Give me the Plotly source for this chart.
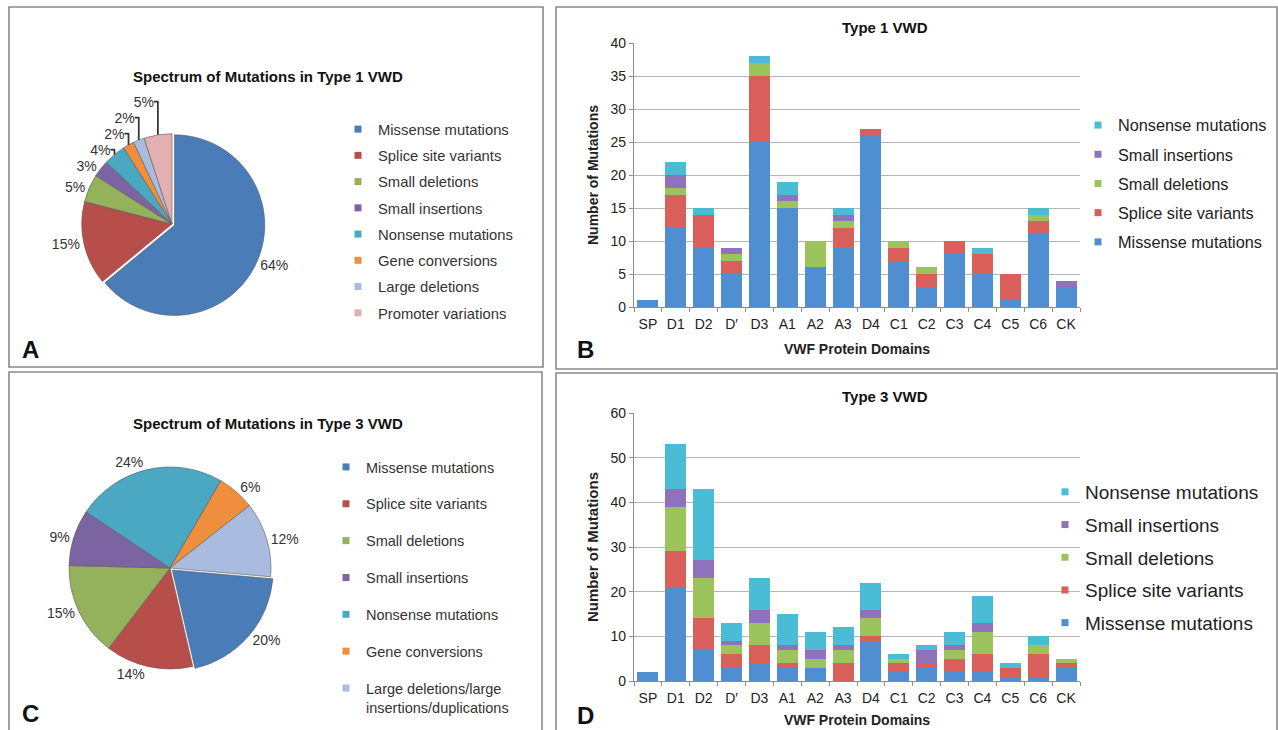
import plotly.graph_objects as go

W, H = 1278, 730

def px(x):
    return x / W

def py(y):
    return 1 - y / H

# ---------------- data ----------------
domains = ["SP", "D1", "D2", "D′", "D3", "A1", "A2", "A3", "D4",
           "C1", "C2", "C3", "C4", "C5", "C6", "CK"]

t1_missense = [1, 12, 9, 5, 25, 15, 6, 9, 26, 7, 3, 8, 5, 1, 11, 3]
t1_splice   = [0, 5, 5, 2, 10, 0, 0, 3, 1, 2, 2, 2, 3, 4, 2, 0]
t1_smalldel = [0, 1, 0, 1, 2, 1, 4, 1, 0, 1, 1, 0, 0, 0, 1, 0]
t1_smallins = [0, 2, 0, 1, 0, 1, 0, 1, 0, 0, 0, 0, 0, 0, 0, 1]
t1_nonsense = [0, 2, 1, 0, 1, 2, 0, 1, 0, 0, 0, 0, 1, 0, 1, 0]

t3_missense = [2, 21, 7, 3, 4, 3, 3, 0, 9, 2, 3, 2, 2, 1, 1, 3]
t3_splice   = [0, 8, 7, 3, 4, 1, 0, 4, 1, 2, 1, 3, 4, 2, 5, 1]
t3_smalldel = [0, 10, 9, 2, 5, 3, 2, 3, 4, 1, 0, 2, 5, 0, 2, 1]
t3_smallins = [0, 4, 4, 1, 3, 1, 2, 1, 2, 0, 3, 1, 2, 0, 0, 0]
t3_nonsense = [0, 10, 16, 4, 7, 7, 4, 4, 6, 1, 1, 3, 6, 1, 2, 0]

bar_series = ["Missense mutations", "Splice site variants", "Small deletions",
              "Small insertions", "Nonsense mutations"]

pie1_labels = ["Missense mutations", "Splice site variants", "Small deletions",
               "Small insertions", "Nonsense mutations", "Gene conversions",
               "Large deletions", "Promoter variations"]
pie1_values = [64, 15, 5, 3, 4, 2, 2, 5]

pie3_labels = ["Missense mutations", "Splice site variants", "Small deletions",
               "Small insertions", "Nonsense mutations", "Gene conversions",
               "Large deletions/large<br>insertions/duplications"]
pie3_values = [20, 14, 15, 9, 24, 6, 12]

# ---------------- styles ----------------
FONT = "Liberation Sans, Arial, sans-serif"
bar_colors = ["#4f8fd1", "#d9605a", "#9cc45c", "#8e72bb", "#4bbcd6"]
pie_colors = ["#4a7db8", "#b84e4a", "#94b25c", "#7c64a2", "#4aa8c2",
              "#ef8f3e", "#a9bce0", "#e2b0b0"]

fig = go.Figure()

t1 = [t1_missense, t1_splice, t1_smalldel, t1_smallins, t1_nonsense]
t3 = [t3_missense, t3_splice, t3_smalldel, t3_smallins, t3_nonsense]

for name, vals, col in zip(bar_series, t1, bar_colors):
    fig.add_trace(go.Bar(x=domains, y=vals, name=name, marker=dict(color=col, line=dict(width=0)),
                         xaxis="x", yaxis="y", showlegend=False))
for name, vals, col in zip(bar_series, t3, bar_colors):
    fig.add_trace(go.Bar(x=domains, y=vals, name=name, marker=dict(color=col, line=dict(width=0)),
                         xaxis="x2", yaxis="y2", showlegend=False))

# pies
fig.add_trace(go.Pie(
    labels=pie1_labels, values=pie1_values, sort=False, direction="clockwise", rotation=0,
    marker=dict(colors=pie_colors, line=dict(color="#5a5a5a", width=0.6)),
    pull=[0.03] + [0] * (len(pie1_values) - 1),
    texttemplate="%{value}%", textposition="outside",
    textfont=dict(size=14, color="#333333", family=FONT),
    domain=dict(x=[px(79), px(265)], y=[py(317), py(131)]),
    showlegend=False, hoverinfo="label+value"))

fig.add_trace(go.Pie(
    labels=pie3_labels, values=pie3_values, sort=False, direction="clockwise", rotation=95,
    marker=dict(colors=pie_colors[:7], line=dict(color="#5a5a5a", width=0.6)),
    pull=[0.03] + [0] * (len(pie3_values) - 1),
    texttemplate="%{value}%", textposition="outside",
    textfont=dict(size=14, color="#333333", family=FONT),
    domain=dict(x=[px(66), px(274)], y=[py(672), py(464)]),
    showlegend=False, hoverinfo="label+value"))

# legend entries (square markers)
def legend_entry(name, color, legend, group):
    return go.Scatter(x=[None], y=[None], mode="markers", name=name,
                      marker=dict(symbol="square", size=7, color=color),
                      legend=legend, legendgroup=group, showlegend=True,
                      hoverinfo="skip", xaxis="x", yaxis="y")

for i in [4, 3, 2, 1, 0]:
    fig.add_trace(legend_entry(bar_series[i], bar_colors[i], "legend", "b%d" % i))
for i in [4, 3, 2, 1, 0]:
    fig.add_trace(legend_entry(bar_series[i], bar_colors[i], "legend2", "d%d" % i))
for i, lab in enumerate(pie1_labels):
    fig.add_trace(legend_entry(lab, pie_colors[i], "legend3", "a%d" % i))
for i, lab in enumerate(pie3_labels):
    fig.add_trace(legend_entry(lab, pie_colors[i], "legend4", "c%d" % i))

axis_common = dict(showline=True, linecolor="#8c8c8c", linewidth=1.2,
                   ticks="outside", ticklen=4, tickcolor="#8c8c8c", automargin=False,
                   tickfont=dict(size=14, color="#222222", family=FONT))

xcommon = dict(axis_common, type="category", tickson="boundaries", tickangle=0,
               ticklabelstandoff=4,
               showgrid=False, categoryorder="array", categoryarray=domains)
ycommon = dict(axis_common, showgrid=True, gridcolor="#b5b5b5", gridwidth=1.3,
               zeroline=False)

fig.update_layout(
    width=W, height=H,
    margin=dict(l=0, r=0, t=0, b=0, pad=0),
    paper_bgcolor="white", plot_bgcolor="white",
    font=dict(family=FONT, color="#222222"),
    barmode="stack", bargap=0.25,
    xaxis=dict(xcommon, domain=[px(634), px(1080)], anchor="y",
               title=dict(text="<b>VWF Protein Domains</b>", font=dict(size=14), standoff=13)),
    yaxis=dict(ycommon, domain=[py(307), py(43)], anchor="x", range=[0, 40], dtick=5,
               title=dict(text="<b>Number of Mutations</b>", font=dict(size=14), standoff=8)),
    xaxis2=dict(xcommon, domain=[px(634), px(1080)], anchor="y2",
                title=dict(text="<b>VWF Protein Domains</b>", font=dict(size=14), standoff=10)),
    yaxis2=dict(ycommon, domain=[py(681), py(413)], anchor="x2", range=[0, 60], dtick=10,
                title=dict(text="<b>Number of Mutations</b>", font=dict(size=15), standoff=8)),
    legend=dict(x=px(1078), y=py(108), xanchor="left", yanchor="top",
                font=dict(size=16.3, color="#222222"), traceorder="grouped",
                tracegroupgap=5, bgcolor="rgba(0,0,0,0)", itemclick=False),
    legend2=dict(x=px(1045), y=py(473), xanchor="left", yanchor="top",
                 font=dict(size=19, color="#222222"), traceorder="grouped",
                 tracegroupgap=5, bgcolor="rgba(0,0,0,0)", itemclick=False),
    legend3=dict(x=px(338), y=py(113), xanchor="left", yanchor="top",
                 font=dict(size=14.8, color="#333333"), traceorder="grouped",
                 tracegroupgap=4, bgcolor="rgba(0,0,0,0)", itemclick=False),
    legend4=dict(x=px(326), y=py(451), xanchor="left", yanchor="top",
                 font=dict(size=14.5, color="#333333"), traceorder="grouped",
                 tracegroupgap=15, valign="top", bgcolor="rgba(0,0,0,0)", itemclick=False),
)

# panel frames
frames = [(9, 7, 543, 367), (556, 7, 1277, 369), (9, 372, 542, 740), (556, 373, 1277, 740)]
for x0, y0, x1, y1 in frames:
    fig.add_shape(type="rect", xref="paper", yref="paper",
                  x0=px(x0), y0=py(y0), x1=px(x1), y1=py(y1),
                  line=dict(color="#8a8a8a", width=1.6), layer="below")

annots = [
    ("<b>Spectrum of Mutations in Type 1 VWD</b>", 268, 77, 15),
    ("<b>Spectrum of Mutations in Type 3 VWD</b>", 268, 424, 15),
    ("<b>Type 1 VWD</b>", 885, 27, 15),
    ("<b>Type 3 VWD</b>", 885, 396, 15),
    ("<b>A</b>", 30, 349, 24),
    ("<b>B</b>", 585, 349, 24),
    ("<b>C</b>", 30, 713, 24),
    ("<b>D</b>", 585, 715, 24),
]
for text, x, y, size in annots:
    fig.add_annotation(text=text, x=px(x), y=py(y), xref="paper", yref="paper",
                       showarrow=False, xanchor="center", yanchor="middle",
                       font=dict(size=size, color="#111111", family=FONT))

fig.write_html("out.html", config={"displayModeBar": False},
               post_script="document.body.style.margin='0';document.body.style.overflow='hidden';")
